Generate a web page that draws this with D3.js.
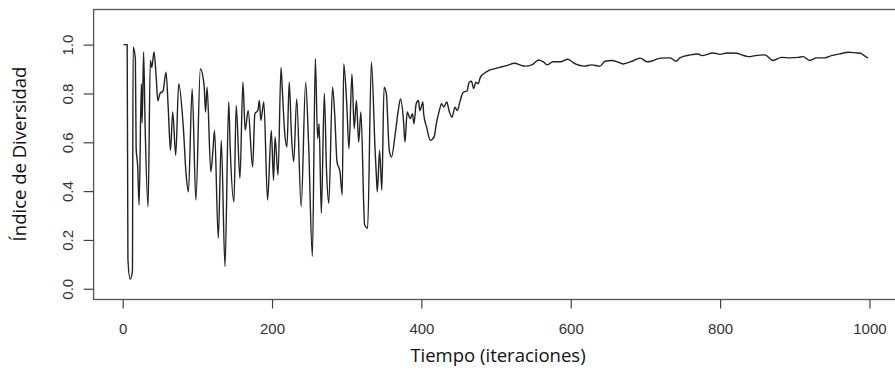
<!DOCTYPE html>
<html>
<head>
<meta charset="utf-8">
<script src="https://d3js.org/d3.v7.min.js"></script>
<style>
  body { margin: 0; background: #fff; }
  .tick text { font-family: "Liberation Sans Narrow", "Liberation Sans", Arial, sans-serif; font-size: 15px; fill: #333; }
  .tick line { stroke: #444; stroke-width: 1.2; }
  .domain { display: none; }
  .title { font-family: "Open Sans", "Liberation Sans", sans-serif; font-size: 18.5px; fill: #111; }
</style>
</head>
<body>
<script>
// iteration numbers and diversity values
var iterations = [1,6,7,10,13,14,17,18,20,22,25,26,28,30,34,37,39,42,45,47,50,54,58,61,64,67,71,75,81,85,88,93,98,104,109,111,113,118,121,123,128,132,137,142,144,149,152,157,161,164,168,
    174,177,181,183,185,189,194,199,202,204,208,212,214,217,220,223,226,229,233,239,245,249,254,258,261,263,266,270,273,276,281,284,287,291,294,296,300,303,307,310,313,316,319,324,328,333,
    338,340,341,344,347,350,353,357,360,365,369,372,376,378,381,385,388,390,393,396,398,402,403,407,412,417,420,424,427,430,434,437,441,445,448,452,
    456,461,464,467,470,473,476,479,484,490,496,505,514,525,532,539,548,557,563,569,576,586,596,606,618,628,639,646,655,662,670,682,693,702,708,
    720,733,741,746,760,771,775,791,800,809,822,829,838,847,860,871,882,894,905,911,920,929,940,949,960,972,983,988,993,998];

var diversity = [1.0,1.0,0.12,0.04,0.07,0.99,0.94,0.575,0.506,0.343,0.84,0.68,0.97,0.67,0.336,0.935,0.907,0.97,0.86,0.77,0.80,0.81,0.887,0.74,0.567,0.724,0.547,0.84,0.67,0.465,0.397,0.82,0.363,0.90,0.833,0.724,0.826,0.479,0.574,0.649,0.208,0.608,0.091,0.765,0.574,0.356,0.751,0.452,0.846,0.649,0.73,
    0.499,0.717,0.73,0.771,0.69,0.765,0.363,0.649,0.445,0.622,0.465,0.907,0.80,0.636,0.581,0.846,0.629,0.52,0.778,0.336,0.846,0.588,0.132,0.942,0.615,0.676,0.309,0.80,0.479,0.35,0.826,0.71,0.52,0.479,0.384,0.921,0.758,0.574,0.88,0.656,0.771,0.601,0.724,0.261,0.248,0.928,
    0.567,0.445,0.397,0.567,0.404,0.826,0.80,0.567,0.54,0.636,0.73,0.778,0.69,0.601,0.724,0.697,0.717,0.676,0.758,0.771,0.73,0.765,0.717,0.662,0.608,0.622,0.676,0.73,0.758,0.744,0.765,0.73,0.703,0.744,0.73,0.771,
    0.805,0.81,0.846,0.85,0.82,0.846,0.84,0.867,0.882,0.894,0.90,0.907,0.914,0.924,0.917,0.912,0.917,0.937,0.93,0.917,0.93,0.93,0.94,0.921,0.912,0.917,0.912,0.932,0.935,0.93,0.921,0.932,0.945,0.93,0.932,
    0.945,0.946,0.932,0.946,0.958,0.962,0.955,0.966,0.96,0.966,0.965,0.958,0.951,0.955,0.958,0.935,0.948,0.946,0.948,0.951,0.935,0.946,0.946,0.955,0.962,0.969,0.966,0.965,0.955,0.945];

var xTicks = [0, 200, 400, 600, 800, 1000];
var yTicks = [0.0, 0.2, 0.4, 0.6, 0.8, 1.0];

window.onload = function(){
    var w = 895, h = 372;
    var left = 93.6, right = 899.3, top = 9.5, bottom = 299.5;

    var svg = d3.select("body").append("svg")
        .attr("width", w)
        .attr("height", h);

    var x = d3.scaleLinear().domain([-38.96, 1039.96]).range([left, right]);
    var y = d3.scaleLinear().domain([-0.044, 1.144]).range([bottom, top]);

    var points = iterations.map(function(d, i){ return [d, diversity[i]]; });

    var line = d3.line()
        .x(function(d){ return x(d[0]); })
        .y(function(d){ return y(d[1]); })
        .curve(d3.curveMonotoneX);

    svg.append("path")
        .datum(points)
        .attr("d", line)
        .attr("fill", "none")
        .attr("stroke", "#222")
        .attr("stroke-width", 1.4)
        .attr("stroke-linejoin", "round");

    // plot box
    svg.append("rect")
        .attr("x", left)
        .attr("y", top)
        .attr("width", right - left)
        .attr("height", bottom - top)
        .attr("fill", "none")
        .attr("stroke", "#555")
        .attr("stroke-width", 1.3);

    var xAxis = d3.axisBottom(x).tickValues(xTicks).tickSize(9).tickPadding(15)
        .tickFormat(d3.format("d"));
    svg.append("g")
        .attr("transform", "translate(0," + bottom + ")")
        .call(xAxis);

    var yAxis = d3.axisLeft(y).tickValues(yTicks).tickSize(10).tickPadding(0)
        .tickFormat(d3.format(".1f"));
    var gy = svg.append("g")
        .attr("transform", "translate(" + left + ",0)")
        .call(yAxis);
    gy.selectAll(".tick text")
        .attr("x", null).attr("dy", null)
        .attr("text-anchor", "middle")
        .attr("transform", "translate(-21,0) rotate(-90)");

    svg.append("text")
        .attr("class", "title")
        .attr("text-anchor", "middle")
        .attr("x", 498)
        .attr("y", 362)
        .text("Tiempo (iteraciones)");

    svg.append("text")
        .attr("class", "title")
        .attr("text-anchor", "middle")
        .attr("transform", "translate(26,154) rotate(-90)")
        .text("Índice de Diversidad");
};
</script>
</body>
</html>
